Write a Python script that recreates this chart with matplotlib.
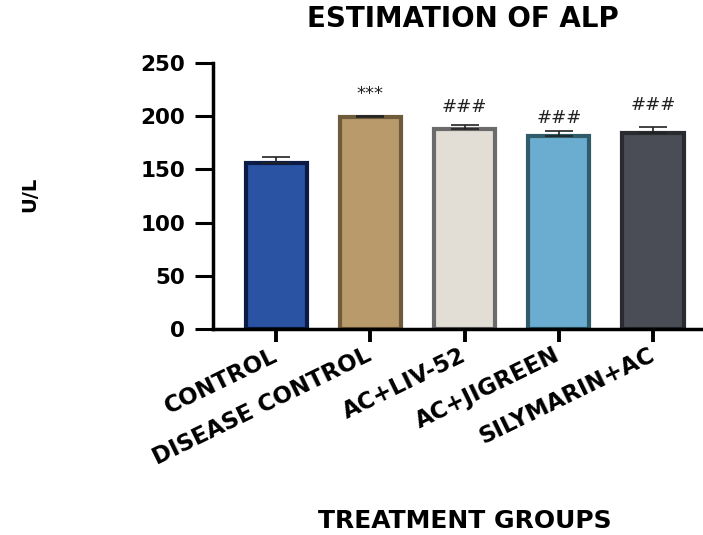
import numpy as np
import matplotlib.pyplot as plt

plt.rcParams['font.family'] = ['DejaVu Sans']

# data
groups = ['CONTROL', 'DISEASE CONTROL', 'AC+LIV-52', 'AC+JIGREEN', 'SILYMARIN+AC']
means = [156, 199.5, 188.5, 181.5, 184.5]
sem = [6, 1, 3, 5, 5.5]
marks = ['', '***', '###', '###', '###']
mark_y = [0, 221, 208.5, 198, 210.5]

fill_colors = ['#2b53a3', '#b99a6b', '#e2ddd5', '#6aadd0', '#4a4d55']
edge_colors = ['#0b1b45', '#6e5b3b', '#6b6b6b', '#2f5b6b', '#2a2b30']

fig = plt.figure(figsize=(7.03, 5.35), dpi=100)
ax = fig.add_axes([0.303, 0.385, 0.697, 0.497])

x = np.arange(len(groups))
ax.bar(x, means, width=0.65, color=fill_colors, edgecolor=edge_colors, linewidth=3, zorder=2)
ax.errorbar(x, means, yerr=[np.zeros(len(sem)), sem], fmt='none', ecolor='#222222',
            elinewidth=1.2, capsize=10, capthick=1.2, zorder=3)

for xi, ym, t in zip(x, mark_y, marks):
    if t:
        ax.text(xi, ym, t, ha='center', va='center', fontsize=13, color='#222222')

ax.set_xlim(-0.67, 4.53)
ax.set_ylim(0, 250)
ax.set_yticks([0, 50, 100, 150, 200, 250])
ax.set_xticks(x)
ax.set_xticklabels(groups, rotation=26, ha='right', va='center', rotation_mode='anchor',
                   fontsize=16.5, fontweight='bold')
for lbl in ax.get_yticklabels():
    lbl.set_fontweight('bold')
    lbl.set_fontsize(15.5)

ax.spines['top'].set_visible(False)
ax.spines['right'].set_visible(False)
ax.spines['left'].set_linewidth(2.5)
ax.spines['bottom'].set_linewidth(2.5)
ax.tick_params(axis='y', width=2.2, length=13, pad=7)
ax.tick_params(axis='x', width=2.8, length=9, pad=9)

fig.text(0.659, 0.965, 'ESTIMATION OF ALP', ha='center', va='center',
         fontsize=20, fontweight='bold')
fig.text(0.043, 0.636, 'U/L', ha='center', va='center', rotation=90,
         fontsize=14, fontweight='bold')
fig.text(0.661, 0.026, 'TREATMENT GROUPS', ha='center', va='center',
         fontsize=18, fontweight='bold')

fig.savefig('out.png', dpi=100)
